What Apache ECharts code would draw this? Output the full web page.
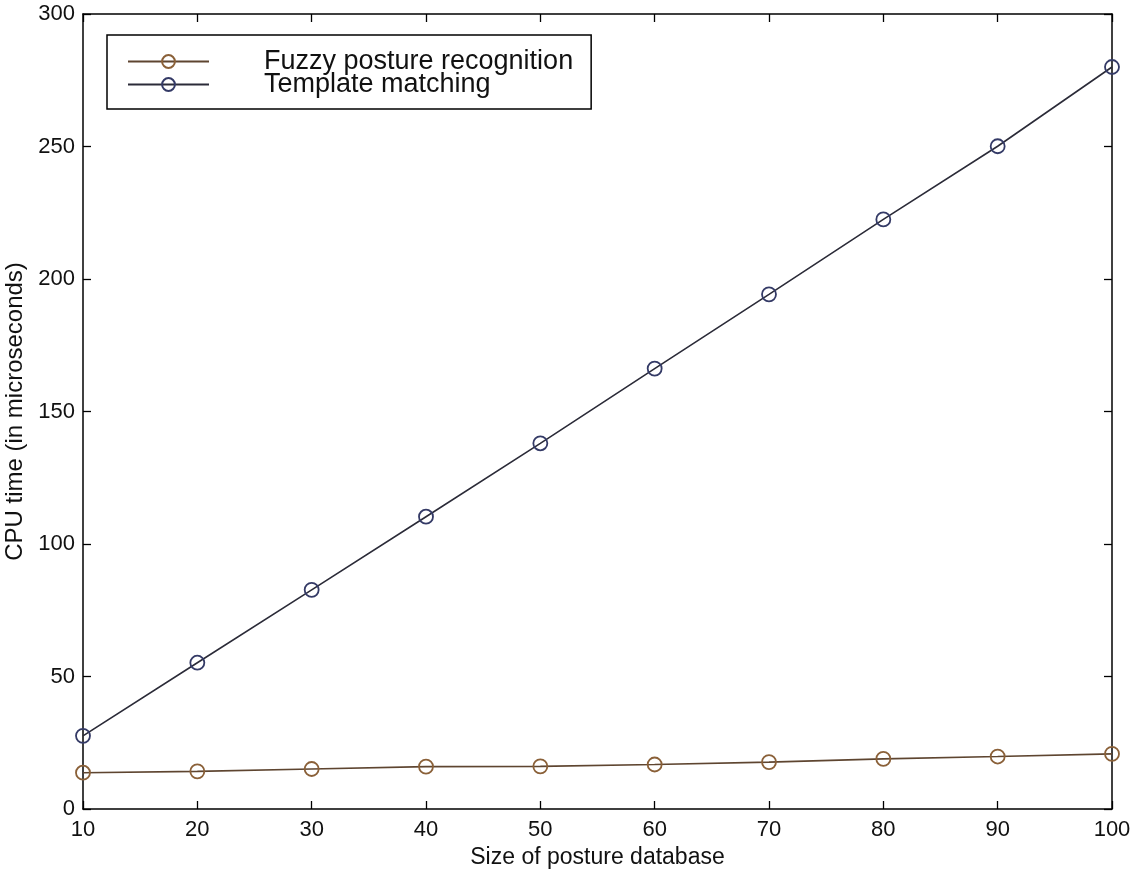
<!DOCTYPE html>
<html>
<head>
<meta charset="utf-8">
<script src="https://cdn.jsdelivr.net/npm/echarts@6/dist/echarts.min.js"></script>
<style>
html,body{margin:0;padding:0;background:#fff;}
#chart{width:1136px;height:872px;}
</style>
</head>
<body>
<div id="chart"></div>
<script>
const databaseSizes = [10, 20, 30, 40, 50, 60, 70, 80, 90, 100];
const fuzzyTimes = [13.7, 14.2, 15.1, 16.0, 16.1, 16.8, 17.7, 18.9, 19.8, 20.8];
const templateTimes = [27.6, 55.2, 82.7, 110.3, 138.0, 166.2, 194.2, 222.5, 250.1, 280.0];
const seriesNames = ['Fuzzy posture recognition', 'Template matching'];
const xAxisTitle = 'Size of posture database';
const yAxisTitle = 'CPU time (in microseconds)';

const font = 'Liberation Sans, Arial, Helvetica, sans-serif';
const chart = echarts.init(document.getElementById('chart'), null, {renderer: 'canvas'});

function pairs(ys) { return databaseSizes.map((x, i) => [x, ys[i]]); }

const axisLine = {show: true, onZero: false, lineStyle: {color: '#000', width: 1.5}};
const tick = {show: true, inside: true, length: 8, lineStyle: {color: '#000', width: 1.3}};

chart.setOption({
  animation: false,
  backgroundColor: '#fff',
  grid: {left: 83, right: 24, top: 14, bottom: 63, containLabel: false, outerBoundsMode: 'none'},
  legend: {
    orient: 'vertical',
    left: 107, top: 35,
    padding: [13, 18, 11, 20],
    itemGap: -4,
    itemWidth: 81,
    itemHeight: 16,
    borderColor: '#000',
    borderWidth: 1.5,
    backgroundColor: '#fff',
    textStyle: {fontFamily: font, fontSize: 27, color: '#111', lineHeight: 23, height: 23, padding: [0, 0, 0, 50]},
    data: seriesNames
  },
  xAxis: [
    {type: 'value', min: 10, max: 100, interval: 10, position: 'bottom',
     name: xAxisTitle, nameLocation: 'middle', nameGap: 36,
     nameTextStyle: {fontFamily: font, fontSize: 23, color: '#111'},
     axisLine: axisLine, axisTick: tick,
     axisLabel: {fontFamily: font, fontSize: 22, color: '#111', margin: 10},
     splitLine: {show: false}},
    {type: 'value', min: 10, max: 100, interval: 10, position: 'top',
     axisLine: axisLine, axisTick: tick, axisLabel: {show: false}, splitLine: {show: false}}
  ],
  yAxis: [
    {type: 'value', min: 0, max: 300, interval: 50, position: 'left',
     name: yAxisTitle, nameLocation: 'middle', nameGap: 48,
     nameTextStyle: {fontFamily: font, fontSize: 24, color: '#111'},
     axisLine: axisLine, axisTick: tick,
     axisLabel: {fontFamily: font, fontSize: 22, color: '#111', margin: 8},
     splitLine: {show: false}},
    {type: 'value', min: 0, max: 300, interval: 50, position: 'right',
     axisLine: axisLine, axisTick: tick, axisLabel: {show: false}, splitLine: {show: false}}
  ],
  series: [
    {name: seriesNames[0], type: 'line', data: pairs(fuzzyTimes),
     symbol: 'circle', symbolSize: 14,
     lineStyle: {color: '#5e4530', width: 1.6},
     itemStyle: {color: 'rgba(0,0,0,0)', borderColor: '#8a6038', borderWidth: 1.8}},
    {name: seriesNames[1], type: 'line', data: pairs(templateTimes),
     symbol: 'circle', symbolSize: 14,
     lineStyle: {color: '#2b2b38', width: 1.6},
     itemStyle: {color: 'rgba(0,0,0,0)', borderColor: '#343a66', borderWidth: 1.8}}
  ]
});
</script>
</body>
</html>
